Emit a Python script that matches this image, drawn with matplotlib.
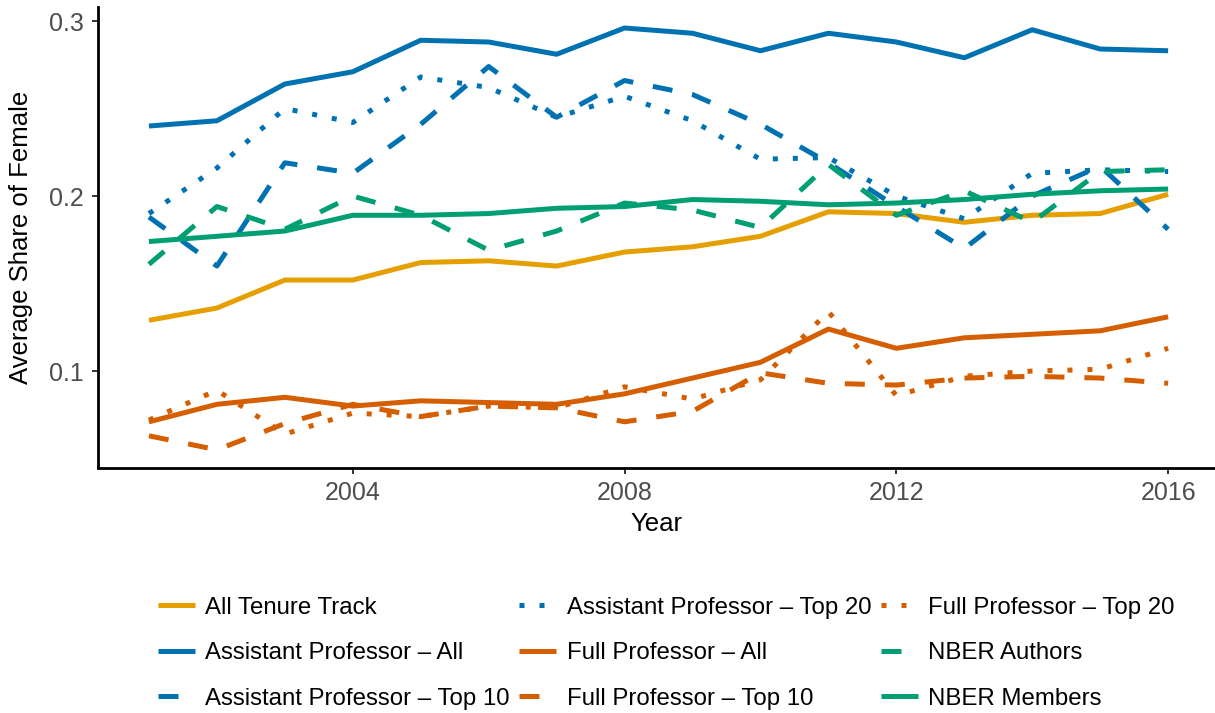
"""
Average share of female economists, 2001-2016
"""
import matplotlib
matplotlib.use("Agg")
import matplotlib.pyplot as plt

plt.rcParams["font.family"] = ["Liberation Sans", "DejaVu Sans"]

years = list(range(2001, 2017))

# Series values
all_tenure_track = [0.129, 0.136, 0.152, 0.152, 0.162, 0.163, 0.160, 0.168,
                    0.171, 0.177, 0.191, 0.190, 0.185, 0.189, 0.190, 0.201]
asst_all = [0.240, 0.243, 0.264, 0.271, 0.289, 0.288, 0.281, 0.296,
            0.293, 0.283, 0.293, 0.288, 0.279, 0.295, 0.284, 0.283]
asst_top10 = [0.188, 0.160, 0.219, 0.213, 0.241, 0.274, 0.245, 0.266,
              0.258, 0.241, 0.219, 0.194, 0.170, 0.200, 0.217, 0.181]
asst_top20 = [0.190, 0.216, 0.250, 0.242, 0.268, 0.262, 0.245, 0.257,
              0.243, 0.221, 0.222, 0.200, 0.187, 0.213, 0.215, 0.214]
full_all = [0.071, 0.081, 0.085, 0.080, 0.083, 0.082, 0.081, 0.087,
            0.096, 0.105, 0.124, 0.113, 0.119, 0.121, 0.123, 0.131]
full_top10 = [0.063, 0.055, 0.070, 0.081, 0.074, 0.080, 0.079, 0.071,
              0.077, 0.099, 0.093, 0.092, 0.096, 0.097, 0.096, 0.093]
full_top20 = [0.072, 0.089, 0.064, 0.076, 0.074, 0.080, 0.079, 0.091,
              0.084, 0.095, 0.134, 0.086, 0.097, 0.100, 0.101, 0.113]
nber_authors = [0.161, 0.194, 0.181, 0.200, 0.189, 0.169, 0.180, 0.196,
                0.192, 0.182, 0.218, 0.189, 0.203, 0.185, 0.214, 0.215]
nber_members = [0.174, 0.177, 0.180, 0.189, 0.189, 0.190, 0.193, 0.194,
                0.198, 0.197, 0.195, 0.196, 0.198, 0.201, 0.203, 0.204]

labels = ["All Tenure Track",
          "Assistant Professor \u2013 All",
          "Assistant Professor \u2013 Top 10",
          "Assistant Professor \u2013 Top 20",
          "Full Professor \u2013 All",
          "Full Professor \u2013 Top 10",
          "Full Professor \u2013 Top 20",
          "NBER Authors",
          "NBER Members"]

# Okabe-Ito palette
c_yellow = "#E69F00"
c_blue = "#0072B2"
c_red = "#D55E00"
c_green = "#009E73"

solid = "-"
dashed = (0, (4, 4))
dotted = (0, (1, 3))

series = [
    (all_tenure_track, c_yellow, solid),
    (asst_all, c_blue, solid),
    (asst_top10, c_blue, dashed),
    (asst_top20, c_blue, dotted),
    (full_all, c_red, solid),
    (full_top10, c_red, dashed),
    (full_top20, c_red, dotted),
    (nber_authors, c_green, dashed),
    (nber_members, c_green, solid),
]

W, H = 1215, 713
fig = plt.figure(figsize=(W / 100, H / 100), dpi=100)
ax = fig.add_axes([98 / W, (H - 467.5) / H, (W - 98) / W, 460.5 / H])

lw = 3.6
handles = []
for (vals, col, ls), lab in zip(series, labels):
    line, = ax.plot(years, vals, color=col, linestyle=ls, linewidth=lw,
                    solid_capstyle="butt", dash_capstyle="butt", label=lab)
    handles.append(line)

ax.set_xlim(2000.25, 2016.69)
ax.set_ylim(0.0449, 0.308)
ax.set_xticks([2004, 2008, 2012, 2016])
ax.set_yticks([0.1, 0.2, 0.3])
ax.set_yticklabels(["0.1", "0.2", "0.3"])

for side in ["top", "right"]:
    ax.spines[side].set_visible(False)
for side in ["left", "bottom"]:
    ax.spines[side].set_linewidth(2.0)
    ax.spines[side].set_color("black")

ax.tick_params(axis="both", length=4, width=1.4, color="#333333",
               labelsize=18, labelcolor="#4D4D4D", pad=6)

ax.set_xlabel("Year", fontsize=18.5, color="black", labelpad=5)
ax.set_ylabel("Average Share of Female", fontsize=18.5, color="black", labelpad=12)

leg = fig.legend(handles=handles, loc="upper left", ncol=3,
                 bbox_to_anchor=(148 / W, 1 - 587 / H), frameon=False,
                 fontsize=17.3, handlelength=1.54, handletextpad=0.42,
                 columnspacing=0.42, labelspacing=0.98, borderaxespad=0)

fig.savefig("out.png", dpi=100)
